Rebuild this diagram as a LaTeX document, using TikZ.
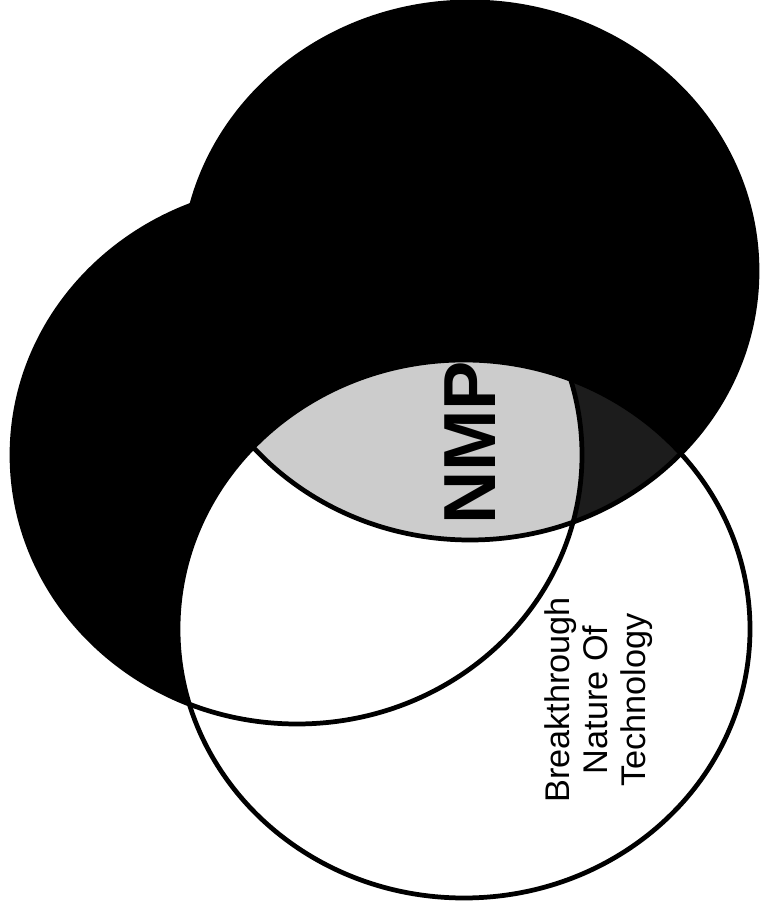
\documentclass[tikz,border=0pt]{standalone}
\usepackage{fontspec}
\setsansfont{Liberation Sans}
\usetikzlibrary{positioning}
\definecolor{vennInk}{HTML}{000000}
\definecolor{vennCore}{HTML}{CCCCCC}
\definecolor{vennWedge}{HTML}{1C1C1C}
\tikzset{
    vennOutline/.style={draw=vennInk, line width=2.7pt},
    vennLabel/.style={
        font=\sffamily\fontsize{19.5}{21.7}\selectfont,
        align=center,
        rotate=90,
        inner sep=0pt
    },
    vennMark/.style={vennLabel, font=\sffamily\bfseries\fontsize{42}{44}\selectfont}
}
\newcommand{\ovalUpper}{(470,631) ellipse [x radius=287, y radius=269]}
\newcommand{\ovalLeft}{(297,447) ellipse [x radius=285, y radius=269]}
\newcommand{\ovalLower}{(464,273) ellipse [x radius=286, y radius=269]}

\begin{document}
\begin{tikzpicture}[x=0.02cm, y=0.02cm]
\useasboundingbox (0,0) rectangle (762,902);
% the two dark sets
\fill[vennInk] \ovalUpper;
\fill[vennInk] \ovalLeft;
\fill[white] \ovalLower;
% overlaps inside the lower set
\begin{scope}
    \clip \ovalLower;
    \clip \ovalUpper;
    \fill[vennWedge] \ovalUpper;
    \fill[vennCore] \ovalLeft;
\end{scope}
% outlines
\draw[vennOutline] \ovalUpper;
\draw[vennOutline] \ovalLeft;
\draw[vennOutline] \ovalLower;
% labels
\node[vennMark] (nmp) at (470,459) {NMP};
\node[vennLabel] (breakthrough) at (599,202) {Breakthrough\\Nature Of\\Technology};
\end{tikzpicture}
\end{document}
